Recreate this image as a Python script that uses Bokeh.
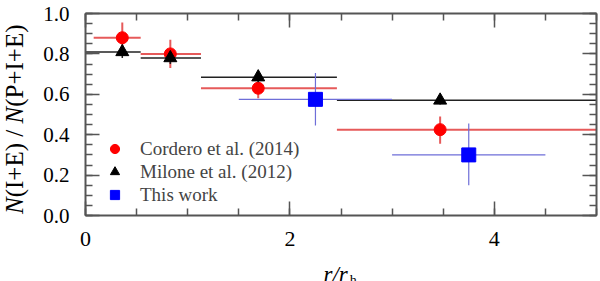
import math
from bokeh.plotting import figure
from bokeh.layouts import row, column
from bokeh.models import (LinearAxis, SingleIntervalTicker, PrintfTickFormatter, Range1d,
                          Legend, LegendItem, CustomJSTickFormatter)
from bokeh.core.properties import value
from bokeh.embed import file_html
from bokeh.resources import INLINE

# ---------------- data ----------------
cordero_x = [0.36, 0.83, 1.69, 3.47]
cordero_y = [0.88, 0.80, 0.63, 0.425]
cordero_xlo = [0.08, 0.54, 1.13, 2.46]
cordero_xhi = [0.54, 1.13, 2.46, 5.0]
cordero_ylo = [0.805, 0.73, 0.58, 0.355]
cordero_yhi = [0.955, 0.87, 0.68, 0.49]

milone_x = [0.36, 0.83, 1.69, 3.47]
milone_y = [0.81, 0.78, 0.685, 0.57]
milone_xlo = [0.0, 0.54, 1.13, 2.46]
milone_xhi = [0.54, 1.13, 2.46, 5.0]
milone_ylo = [0.78, 0.75, 0.66, 0.55]
milone_yhi = [0.84, 0.81, 0.71, 0.59]

this_x = [2.25, 3.75]
this_y = [0.575, 0.30]
this_xlo = [1.5, 3.0]
this_xhi = [3.0, 4.5]
this_ylo = [0.445, 0.15]
this_yhi = [0.705, 0.455]

legend_labels = ["Cordero et al. (2014)", "Milone et al. (2012)", "This work"]
x_tick_interval = 2
y_tick_interval = 0.2

SERIF = "Liberation Serif"
AXC = "#555555"

# ---------------- layout geometry (pixels) ----------------
TOTAL_W, TOTAL_H = 600, 281
YLAB_W = 34                 # strip holding the rotated y title
MAIN_W = TOTAL_W - YLAB_W
MAIN_H = 256
XLAB_H = TOTAL_H - MAIN_H
F_LEFT, F_TOP, F_BOTTOM, F_RIGHT = 85, 13, 215, 596   # frame edges on the page
B_LEFT = F_LEFT - YLAB_W
B_RIGHT = TOTAL_W - F_RIGHT
B_BOTTOM = MAIN_H - F_BOTTOM

main = figure(width=MAIN_W, height=MAIN_H, output_backend="svg", toolbar_location=None,
              x_range=Range1d(0, 5), y_range=Range1d(0, 1.0),
              x_axis_type=None, y_axis_type=None,
              min_border_left=B_LEFT, min_border_right=B_RIGHT, min_border_top=F_TOP,
              min_border_bottom=B_BOTTOM)
main.outline_line_color = None
main.xgrid.visible = False
main.ygrid.visible = False


def make_axis(interval, fmt, show_labels):
    ax = LinearAxis(ticker=SingleIntervalTicker(interval=interval, num_minor_ticks=4))
    ax.axis_line_color = AXC
    ax.axis_line_width = 2
    ax.major_tick_line_color = AXC
    ax.minor_tick_line_color = AXC
    ax.major_tick_line_width = 1.5
    ax.minor_tick_line_width = 1.5
    ax.major_tick_in = 14
    ax.major_tick_out = 0
    ax.minor_tick_in = 7
    ax.minor_tick_out = 0
    ax.major_label_text_font = SERIF
    ax.major_label_text_color = "black"
    if show_labels:
        ax.formatter = PrintfTickFormatter(format=fmt)
    else:
        ax.formatter = CustomJSTickFormatter(code="return '';")
        ax.major_label_standoff = 0
    return ax


xb = make_axis(x_tick_interval, "%d", True)
xb.major_label_text_font_size = "22px"
xb.major_label_standoff = 16
yl = make_axis(y_tick_interval, "%.1f", True)
yl.major_label_text_font_size = "21px"
yl.major_label_standoff = 16
xt = make_axis(x_tick_interval, "%d", False)
yr = make_axis(y_tick_interval, "%.1f", False)
main.add_layout(xb, "below")
main.add_layout(yl, "left")
main.add_layout(xt, "above")
main.add_layout(yr, "right")

# ---------------- error bars & markers ----------------
RED_ERR = "#e65a5a"
BLK_ERR = "#222222"
BLU_ERR = "#6e6ed8"

main.segment(cordero_xlo, cordero_y, cordero_xhi, cordero_y, line_color=RED_ERR, line_width=2)
main.segment(cordero_x, cordero_ylo, cordero_x, cordero_yhi, line_color=RED_ERR, line_width=2)
r_red = main.scatter(cordero_x, cordero_y, marker="circle", size=12,
                     fill_color="#ff0000", line_color="#ff0000")

main.segment(milone_xlo, milone_y, milone_xhi, milone_y, line_color=BLK_ERR, line_width=1.5)
main.segment(milone_x, milone_ylo, milone_x, milone_yhi, line_color=BLK_ERR, line_width=1.5)
r_blk = main.scatter(milone_x, milone_y, marker="triangle", size=13,
                     fill_color="black", line_color="black")

main.segment(this_xlo, this_y, this_xhi, this_y, line_color=BLU_ERR, line_width=1.2)
main.segment(this_x, this_ylo, this_x, this_yhi, line_color=BLU_ERR, line_width=1.2)
r_blu = main.scatter(this_x, this_y, marker="square", size=14,
                     fill_color="#0000ff", line_color="#0000ff")

legend = Legend(items=[LegendItem(label=legend_labels[0], renderers=[r_red]),
                       LegendItem(label=legend_labels[1], renderers=[r_blk]),
                       LegendItem(label=legend_labels[2], renderers=[r_blu])],
                location=(18, 9), padding=0, margin=0, spacing=0,
                glyph_width=23, glyph_height=23, label_height=23, label_standoff=14,
                label_text_font=SERIF, label_text_font_size="19px",
                border_line_color=None, background_fill_alpha=0)
main.add_layout(legend, "center")


def text_strip(w, h, bl, br, bt, bb):
    f = figure(width=w, height=h, output_backend="svg", toolbar_location=None,
               x_range=Range1d(0, w - bl - br), y_range=Range1d(0, h - bt - bb),
               x_axis_type=None, y_axis_type=None,
               min_border_left=bl, min_border_right=br, min_border_top=bt, min_border_bottom=bb)
    f.outline_line_color = None
    f.xgrid.visible = False
    f.ygrid.visible = False
    return f


# ---------------- y title: N(I+E) / N(P+I+E), rotated ----------------
# strip frame spans the same vertical extent as the main frame
ylab = text_strip(YLAB_W, TOTAL_H, 0, 0, F_TOP, TOTAL_H - F_BOTTOM)
yfs = 25
pieces = [("N", "italic", 0.667), ("(I+E) / ", "normal", 2.952),
          ("N", "italic", 0.667), ("(P+I+E)", "normal", 3.294)]
pos = 1.5
ital_y, ital_t, norm_y, norm_t = [], [], [], []
for txt, style, w in pieces:
    if style == "italic":
        ital_y.append(pos); ital_t.append(txt)
    else:
        norm_y.append(pos); norm_t.append(txt)
    pos += w * yfs
mid_x = 13.5
ylab.text(x=[mid_x] * len(ital_y), y=ital_y, text=ital_t, angle=math.pi / 2,
          text_font=value(SERIF), text_font_style="italic", text_font_size=f"{yfs}px",
          text_align="left", text_baseline="middle", text_color="black")
ylab.text(x=[mid_x] * len(norm_y), y=norm_y, text=norm_t, angle=math.pi / 2,
          text_font=value(SERIF), text_font_style="normal", text_font_size=f"{yfs}px",
          text_align="left", text_baseline="middle", text_color="black")

# ---------------- x title: r/r_h ----------------
# strip frame spans the same horizontal extent as the main frame
xlab = text_strip(MAIN_W, XLAB_H, B_LEFT, B_RIGHT, 0, 0)
xfs = 23
x0 = 323 - F_LEFT
xlab.text(x=[x0], y=[TOTAL_H - 274], text=["r/r"], text_font=value(SERIF),
          text_font_style="italic", text_font_size=f"{xfs}px",
          text_align="left", text_baseline="alphabetic", text_color="black")
xlab.text(x=[x0 + 1.056 * xfs + 2], y=[TOTAL_H - 279.5], text=["h"], text_font=value(SERIF),
          text_font_style="normal", text_font_size="14px",
          text_align="left", text_baseline="alphabetic", text_color="black")

layout = row(ylab, column(main, xlab))
open("out.html", "w").write(file_html(layout, INLINE))
